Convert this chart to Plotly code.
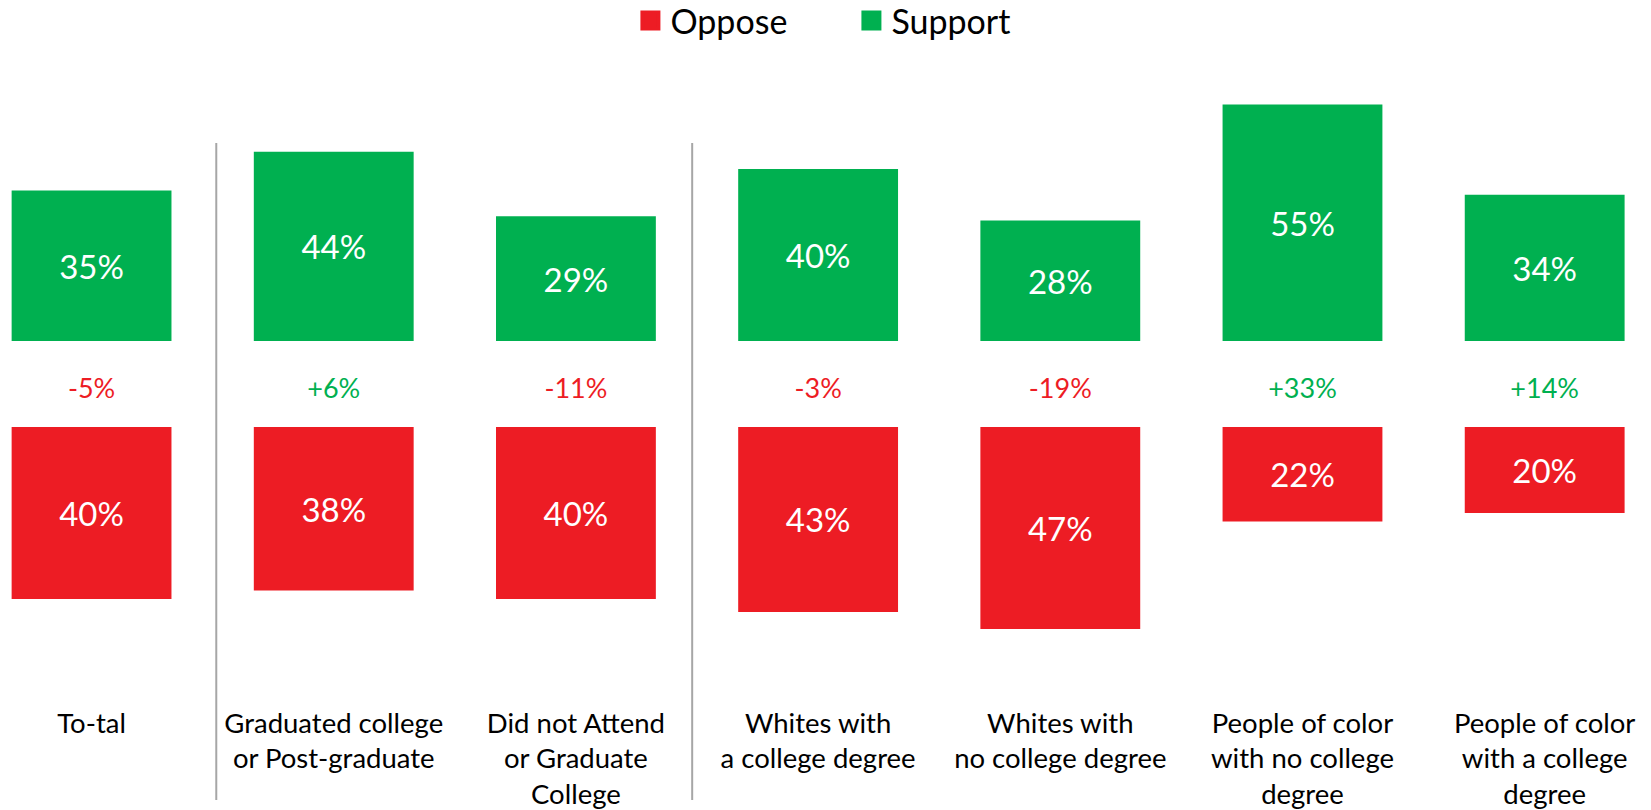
import plotly.graph_objects as go

categories = [
    "To-tal",
    "Graduated college<br>or Post-graduate",
    "Did not Attend<br>or Graduate<br>College",
    "Whites with<br>a college degree",
    "Whites with<br>no college degree",
    "People of color<br>with no college<br>degree",
    "People of color<br>with a college<br>degree",
]
support = [35, 44, 29, 40, 28, 55, 34]
oppose = [40, 38, 40, 43, 47, 22, 20]
net = [s - o for s, o in zip(support, oppose)]
group_dividers = [0.515, 2.48]

GREEN = "#00B050"
RED = "#ED1C24"
FONT = "Lato"
GAP = 10  # half gap between the two stacks, in percentage points

x_idx = list(range(len(categories)))

fig = go.Figure()
fig.add_trace(go.Bar(
    x=x_idx, y=support, base=[GAP] * len(support), width=0.66,
    marker=dict(color=GREEN, line=dict(width=0)),
    text=[f"{v}%" for v in support], textposition="inside",
    insidetextanchor="middle", textangle=0,
    textfont=dict(family=FONT, size=33, color="white"),
    showlegend=False, hoverinfo="skip",
))
fig.add_trace(go.Bar(
    x=x_idx, y=[-v for v in oppose], base=[-GAP] * len(oppose), width=0.66,
    marker=dict(color=RED, line=dict(width=0)),
    text=[f"{v}%" for v in oppose], textposition="inside",
    insidetextanchor="middle", textangle=0,
    textfont=dict(family=FONT, size=33, color="white"),
    showlegend=False, hoverinfo="skip",
))
fig.add_trace(go.Scatter(
    x=x_idx, y=[-1.65] * len(net), mode="text",
    text=[(f"+{v}%" if v > 0 else f"{v}%") for v in net],
    textfont=dict(family=FONT, size=27, color=[GREEN if v > 0 else RED for v in net]),
    showlegend=False, hoverinfo="skip",
))
# legend entries
fig.add_trace(go.Scatter(x=[None], y=[None], mode="markers", name="Oppose",
                         marker=dict(symbol="square", size=16, color=RED,
                                     line=dict(color=RED, width=4))))
fig.add_trace(go.Scatter(x=[None], y=[None], mode="markers", name="Support",
                         marker=dict(symbol="square", size=16, color=GREEN,
                                     line=dict(color=GREEN, width=4))))

for d in group_dividers:
    fig.add_shape(type="line", xref="x", yref="paper", x0=d, x1=d,
                  y0=(700 - 143) / 610, y1=(700 - 800) / 610,
                  line=dict(color="#A6A6A6", width=2))

fig.update_layout(
    width=1651, height=810,
    margin=dict(l=0, r=0, t=90, b=110),
    paper_bgcolor="white", plot_bgcolor="white",
    barmode="overlay",
    font=dict(family=FONT, color="black"),
    legend=dict(orientation="h", x=0.5157, xanchor="center", y=1 - 21 / 810,
                yanchor="middle", yref="container", itemsizing="trace",
                font=dict(family=FONT, size=34, color="black"),
                entrywidth=176, bgcolor="rgba(0,0,0,0)"),
    xaxis=dict(range=[-0.378, 6.439], tickvals=x_idx, ticktext=categories,
               showgrid=False, zeroline=False, showline=False, ticks="",
               tickfont=dict(family=FONT, size=27.5, color="black"),
               ticklabelstandoff=4, fixedrange=True),
    yaxis=dict(range=[-73.488, 68.372], visible=False, showgrid=False,
               zeroline=False, fixedrange=True),
)

fig.write_html("out.html")
